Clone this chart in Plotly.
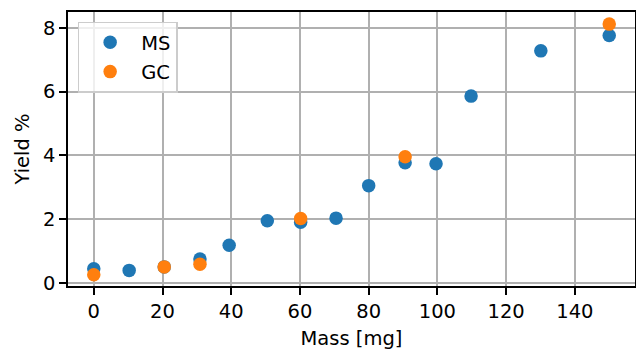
import plotly.graph_objects as go

ms_mass = [0, 10.3, 20.5, 30.9, 39.4, 50.5, 60.2, 70.5, 80.0, 90.6, 99.6, 109.8, 130.1, 150.0]
ms_yield = [0.44, 0.39, 0.50, 0.75, 1.18, 1.95, 1.90, 2.03, 3.05, 3.77, 3.74, 5.86, 7.28, 7.76]
gc_mass = [0, 20.5, 30.9, 60.2, 90.6, 150.0]
gc_yield = [0.25, 0.50, 0.58, 2.02, 3.96, 8.12]

x_ticks = [0, 20, 40, 60, 80, 100, 120, 140]
y_ticks = [0, 2, 4, 6, 8]

FONT = "DejaVu Sans"
FS = 19.5

fig = go.Figure()
fig.add_trace(go.Scatter(x=ms_mass, y=ms_yield, mode="markers", name="MS", legendgroup="ms",
                         marker=dict(color="#1f77b4", size=13.5, line=dict(width=0))))
fig.add_trace(go.Scatter(x=gc_mass, y=gc_yield, mode="markers", name="GC", legendgroup="gc",
                         marker=dict(color="#ff7f0e", size=13.5, line=dict(width=0))))

axis_common = dict(
    showline=True, linecolor="black", linewidth=1.5, mirror=True,
    showgrid=True, gridcolor="#b0b0b0", gridwidth=1.5,
    zeroline=False, ticks="outside", ticklen=7, tickwidth=1.5, tickcolor="black",
    tickfont=dict(family=FONT, size=FS, color="black"), automargin=False,
)

fig.update_xaxes(range=[-7.5, 157.5], tickvals=x_ticks,
                 title=dict(text="Mass [mg]", font=dict(family=FONT, size=FS, color="black"), standoff=13),
                 **axis_common)
fig.update_yaxes(range=[-0.1, 8.5], tickvals=y_ticks,
                 title=dict(text="Yield %", font=dict(family=FONT, size=FS, color="black"), standoff=8),
                 **axis_common)

fig.update_layout(
    width=636, height=350,
    margin=dict(l=68, r=1, t=12, b=64, pad=0),
    plot_bgcolor="white", paper_bgcolor="white",
    font=dict(family=FONT, size=FS, color="black"),
    showlegend=True,
    legend=dict(x=0.017, y=0.965, xanchor="left", yanchor="top",
                bgcolor="rgba(255,255,255,0.8)", bordercolor="#cccccc", borderwidth=1.5,
                font=dict(family=FONT, size=FS, color="black"),
                itemwidth=52, tracegroupgap=1),
)

fig.write_html("out.html")
